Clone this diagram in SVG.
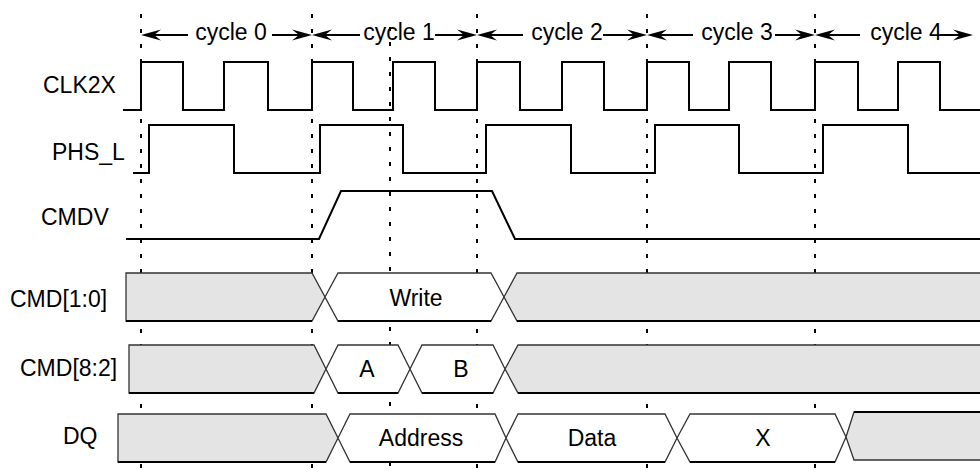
<svg xmlns="http://www.w3.org/2000/svg" width="980" height="474" viewBox="0 0 980 474">
<style>
text{font-family:"Liberation Sans",Arial,sans-serif;font-size:23px;fill:#000}
.c{text-anchor:middle}
.grid{stroke:#000;stroke-width:2;stroke-dasharray:4 11;fill:none}
.wave{stroke:#000;stroke-width:2;fill:none;stroke-linejoin:miter}
.bg{fill:#e4e4e4;stroke:#333;stroke-width:1.3}
.bw{fill:#fff;stroke:#333;stroke-width:1.3}
.bot{stroke:#000;stroke-width:2.2;fill:none}
.arr{stroke:#000;stroke-width:2;fill:none}
</style>
<defs>
<marker id="ah" markerWidth="20" markerHeight="12" refX="10" refY="6" orient="auto" markerUnits="userSpaceOnUse"><path d="M0,0.5 L20,6 L0,11.5 L7,6 z" fill="#000"/></marker>
</defs>
<rect width="980" height="474" fill="#fff"/>
<g id="gridlines">
<line class="grid" x1="141" y1="14" x2="141" y2="472"/>
<line class="grid" x1="312" y1="14" x2="312" y2="472"/>
<line class="grid" x1="390" y1="27" x2="390" y2="472"/>
<line class="grid" x1="477" y1="14" x2="477" y2="472"/>
<line class="grid" x1="647" y1="14" x2="647" y2="472"/>
<line class="grid" x1="815" y1="14" x2="815" y2="472"/>
</g>
<g id="connectors">
<line class="arr" x1="188" y1="35" x2="151" y2="35" marker-end="url(#ah)"/>
<line class="arr" x1="272" y1="35" x2="302" y2="35" marker-end="url(#ah)"/>
<line class="arr" x1="360" y1="35" x2="322" y2="35" marker-end="url(#ah)"/>
<line class="arr" x1="435" y1="35" x2="467" y2="35" marker-end="url(#ah)"/>
<line class="arr" x1="523" y1="35" x2="487" y2="35" marker-end="url(#ah)"/>
<line class="arr" x1="603" y1="35" x2="637" y2="35" marker-end="url(#ah)"/>
<line class="arr" x1="693" y1="35" x2="657" y2="35" marker-end="url(#ah)"/>
<line class="arr" x1="775" y1="35" x2="805" y2="35" marker-end="url(#ah)"/>
<line class="arr" x1="860" y1="35" x2="825" y2="35" marker-end="url(#ah)"/>
<line class="arr" x1="940" y1="35" x2="963" y2="35" marker-end="url(#ah)"/>
</g>
<g id="cycles">
<text class="c" x="231" y="40">cycle 0</text>
<text class="c" x="399" y="40">cycle 1</text>
<text class="c" x="567" y="40">cycle 2</text>
<text class="c" x="737" y="40">cycle 3</text>
<text class="c" x="906" y="40">cycle 4</text>
</g>
<g id="clk2x">
<text x="43" y="93">CLK2X</text>
<path class="wave" d="M123,110 H141 V62 H183 V110 H224 V62 H268 V110 H312 V62 H353 V110 H393 V62 H435 V110 H477 V62 H520 V110 H562 V62 H604 V110 H647 V62 H689 V110 H729 V62 H771 V110 H815 V62 H858 V110 H898 V62 H940 V110 H980"/>
</g>
<g id="phs_l">
<text x="52" y="160">PHS_L</text>
<path class="wave" d="M133,173 H149 V125 H234 V173 H320 V125 H403 V173 H486 V125 H571 V173 H655 V125 H739 V173 H823 V125 H908 V173 H980"/>
</g>
<g id="cmdv">
<text x="41" y="225">CMDV</text>
<path class="wave" d="M126,239 H319 L341,191 H492 L515,239 H980"/>
</g>
<g id="cmd10">
<text x="10" y="307">CMD[1:0]</text>
<polygon class="bg" points="126,273 312,273 325,297 312,321 126,321"/>
<polygon class="bw" points="325,297 338,273 491,273 504,297 491,321 338,321"/>
<polygon class="bg" points="504,297 517,273 982,273 982,321 517,321"/>
<path class="bot" d="M126,321 H312 M338,321 H491 M517,321 H980"/>
<text class="c" x="416" y="306">Write</text>
</g>
<g id="cmd82">
<text x="20" y="376">CMD[8:2]</text>
<polygon class="bg" points="129,345 314,345 326,369 314,393 129,393"/>
<polygon class="bw" points="326,369 338,345 398,345 410,369 398,393 338,393"/>
<polygon class="bw" points="410,369 422,345 493,345 505,369 493,393 422,393"/>
<polygon class="bg" points="505,369 518,345 982,345 982,393 518,393"/>
<path class="bot" d="M129,393 H314 M338,393 H398 M422,393 H493 M518,393 H980"/>
<text class="c" x="367" y="377">A</text>
<text class="c" x="461" y="377">B</text>
</g>
<g id="dq">
<text x="63" y="444">DQ</text>
<polygon class="bg" points="118,414 326,414 338,438 326,462 118,462"/>
<polygon class="bw" points="338,438 350,414 495,414 506,438 495,462 350,462"/>
<polygon class="bw" points="506,438 518,414 665,414 677,438 665,462 518,462"/>
<polygon class="bw" points="677,438 690,414 835,414 846,437 835,462 690,462"/>
<polygon class="bg" points="846,437 854,412 982,412 982,460 854,460"/>
<path class="bot" d="M118,462 H326 M350,462 H495 M518,462 H665 M690,462 H835 M854,412 H980"/>
<text class="c" x="421" y="446">Address</text>
<text class="c" x="592" y="446">Data</text>
<text class="c" x="763" y="446">X</text>
</g>
</svg>
